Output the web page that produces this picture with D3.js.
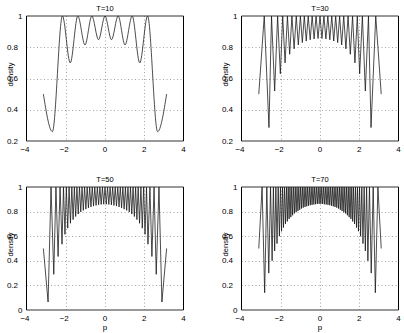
<!DOCTYPE html>
<html>
<head>
<meta charset="utf-8">
<script src="https://cdn.jsdelivr.net/npm/d3@7"></script>
<style>
  body { margin: 0; background: #fff; }
  svg { display: block; font-family: "Liberation Sans", Arial, sans-serif; }
</style>
</head>
<body>
<svg id="chart" width="404" height="333"></svg>
<script>
// values: [p, density]
const titles = ["T=10", "T=30", "T=50", "T=70"];
const xTicks = [-4, -2, 0, 2, 4];
const yTicksTop = [0.2, 0.4, 0.6, 0.8, 1];
const yTicksBottom = [0, 0.2, 0.4, 0.6, 0.8, 1];

const t10 = [[-3.14,0.50],[-2.68,0.26],[-2.17,1],[-1.77,0.70],[-1.385,1],[-1.02,0.815],[-0.67,1],[-0.33,0.848],[0,1],
  [0.33,0.848],[0.67,1],[1.02,0.815],[1.385,1],[1.77,0.70],[2.17,1],[2.68,0.26],[3.14,0.50]];

const t30 = [[-3.12,0.50],[-2.84,1],[-2.60,0.286],[-2.47,1],[-2.31,0.52],[-2.16,1],[-2.02,0.63],[-1.90,1],[-1.78,0.70],[-1.66,1],
  [-1.545,0.755],[-1.43,1],[-1.32,0.79],[-1.21,1],[-1.105,0.815],[-1.00,1],[-0.90,0.83],[-0.80,1],[-0.70,0.84],[-0.60,1],
  [-0.50,0.848],[-0.40,1],[-0.30,0.853],[-0.20,1],[-0.10,0.856],[0,1],
  [0.10,0.856],[0.20,1],[0.30,0.853],[0.40,1],[0.50,0.848],[0.60,1],[0.70,0.84],[0.80,1],[0.90,0.83],[1.00,1],
  [1.105,0.815],[1.21,1],[1.32,0.79],[1.43,1],[1.545,0.755],[1.66,1],[1.78,0.70],[1.90,1],[2.02,0.63],[2.16,1],
  [2.31,0.52],[2.47,1],[2.60,0.286],[2.84,1],[3.12,0.50]];

const t50 = [[-3.14,0.50],[-2.90,0.065],[-2.75,1],[-2.61,0.29],[-2.50,1],[-2.39,0.435],[-2.29,1],[-2.19,0.535],[-2.115,1],
  [-2.04,0.615],[-1.97,1],[-1.90,0.665],[-1.83,1],[-1.76,0.705],[-1.69,1],[-1.625,0.735],[-1.56,1],[-1.495,0.76],[-1.43,1],
  [-1.365,0.78],[-1.30,1],[-1.235,0.797],[-1.17,1],[-1.105,0.81],[-1.04,1],[-0.975,0.82],[-0.91,1],[-0.845,0.83],[-0.78,1],
  [-0.715,0.838],[-0.65,1],[-0.585,0.845],[-0.52,1],[-0.455,0.85],[-0.39,1],[-0.325,0.855],[-0.26,1],[-0.195,0.858],[-0.13,1],
  [-0.065,0.86],[0,1],
  [0.065,0.86],[0.13,1],[0.195,0.858],[0.26,1],[0.325,0.855],[0.39,1],[0.455,0.85],[0.52,1],[0.585,0.845],[0.65,1],
  [0.715,0.838],[0.78,1],[0.845,0.83],[0.91,1],[0.975,0.82],[1.04,1],[1.105,0.81],[1.17,1],[1.235,0.797],[1.30,1],
  [1.365,0.78],[1.43,1],[1.495,0.76],[1.56,1],[1.625,0.735],[1.69,1],[1.76,0.705],[1.83,1],[1.90,0.665],[1.97,1],
  [2.04,0.615],[2.115,1],[2.19,0.535],[2.29,1],[2.39,0.435],[2.50,1],[2.61,0.29],[2.75,1],[2.90,0.065],[3.14,0.50]];

const t70 = [[-3.12,0.50],[-2.95,1],[-2.82,0.14],[-2.71,1],[-2.61,0.30],[-2.52,1],[-2.44,0.40],[-2.375,1],[-2.31,0.48],[-2.25,1],
  [-2.19,0.54],[-2.13,1],[-2.07,0.60],[-2.015,1],[-1.96,0.64],[-1.91,1],[-1.86,0.67],[-1.81,1],[-1.76,0.70],[-1.71,1],
  [-1.665,0.72],[-1.62,1],[-1.575,0.74],[-1.53,1],[-1.485,0.755],[-1.44,1],[-1.395,0.77],[-1.35,1],[-1.305,0.785],[-1.26,1],
  [-1.215,0.795],[-1.17,1],[-1.125,0.805],[-1.08,1],[-1.035,0.815],[-0.99,1],[-0.945,0.825],[-0.90,1],[-0.855,0.832],[-0.81,1],
  [-0.765,0.838],[-0.72,1],[-0.675,0.843],[-0.63,1],[-0.585,0.848],[-0.54,1],[-0.495,0.852],[-0.45,1],[-0.405,0.855],[-0.36,1],
  [-0.315,0.858],[-0.27,1],[-0.225,0.86],[-0.18,1],[-0.135,0.862],[-0.09,1],[-0.045,0.863],[0,1],
  [0.045,0.863],[0.09,1],[0.135,0.862],[0.18,1],[0.225,0.86],[0.27,1],[0.315,0.858],[0.36,1],[0.405,0.855],[0.45,1],
  [0.495,0.852],[0.54,1],[0.585,0.848],[0.63,1],[0.675,0.843],[0.72,1],[0.765,0.838],[0.81,1],[0.855,0.832],[0.90,1],
  [0.945,0.825],[0.99,1],[1.035,0.815],[1.08,1],[1.125,0.805],[1.17,1],[1.215,0.795],[1.26,1],[1.305,0.785],[1.35,1],
  [1.395,0.77],[1.44,1],[1.485,0.755],[1.53,1],[1.575,0.74],[1.62,1],[1.665,0.72],[1.71,1],[1.76,0.70],[1.81,1],
  [1.86,0.67],[1.91,1],[1.96,0.64],[2.015,1],[2.07,0.60],[2.13,1],[2.19,0.54],[2.25,1],[2.31,0.48],[2.375,1],
  [2.44,0.40],[2.52,1],[2.61,0.30],[2.71,1],[2.82,0.14],[2.95,1],[3.12,0.50]];

const panels = [
  {title: titles[0], data: t10, x0: 26.5, x1: 183.5, y0: 141, y1: 16, dom: [0.2, 1], yt: yTicksTop, smooth: true, xlab: false},
  {title: titles[1], data: t30, x0: 241.5, x1: 398.5, y0: 141, y1: 16, dom: [0.2, 1], yt: yTicksTop, smooth: false, xlab: false},
  {title: titles[2], data: t50, x0: 26.5, x1: 183.5, y0: 310, y1: 187, dom: [0, 1], yt: yTicksBottom, smooth: false, xlab: true},
  {title: titles[3], data: t70, x0: 241.5, x1: 398.5, y0: 310, y1: 187, dom: [0, 1], yt: yTicksBottom, smooth: false, xlab: true}
];

const svg = d3.select("#chart");
const fmt = d => (d < 0 ? "\u2212" : "") + Math.abs(d);

panels.forEach(pn => {
  let x = d3.scaleLinear().domain([-4, 4]).range([pn.x0, pn.x1]);
  let y = d3.scaleLinear().domain(pn.dom).range([pn.y0, pn.y1]);
  let g = svg.append("g");

  // dotted grid
  g.selectAll(".gx").data(xTicks.slice(1, -1)).enter().append("line")
    .attr("x1", d => Math.round(x(d)) + 0.5).attr("x2", d => Math.round(x(d)) + 0.5)
    .attr("y1", pn.y1).attr("y2", pn.y0)
    .attr("stroke", "#8a8a8a").attr("stroke-width", 0.8).attr("stroke-dasharray", "1,2.5");
  g.selectAll(".gy").data(pn.yt.slice(1, -1)).enter().append("line")
    .attr("x1", pn.x0).attr("x2", pn.x1)
    .attr("y1", d => Math.round(y(d)) + 0.5).attr("y2", d => Math.round(y(d)) + 0.5)
    .attr("stroke", "#8a8a8a").attr("stroke-width", 0.8).attr("stroke-dasharray", "1,2.5");

  // curve
  let line = d3.line().x(d => x(d[0])).y(d => y(d[1]))
    .curve(pn.smooth ? d3.curveMonotoneX : d3.curveLinear);
  g.append("path").datum(pn.data).attr("d", line)
    .attr("fill", "none").attr("stroke", "#111").attr("stroke-width", 0.75);

  // frame
  g.append("line").attr("x1", pn.x0).attr("x2", pn.x1).attr("y1", pn.y1).attr("y2", pn.y1)
    .attr("stroke", "#333").attr("stroke-width", 1);
  g.append("line").attr("x1", pn.x0).attr("x2", pn.x1).attr("y1", pn.y0).attr("y2", pn.y0)
    .attr("stroke", "#333").attr("stroke-width", 1);
  g.append("line").attr("x1", pn.x0).attr("x2", pn.x0).attr("y1", pn.y1).attr("y2", pn.y0)
    .attr("stroke", "#000").attr("stroke-width", 1);
  g.append("line").attr("x1", pn.x1).attr("x2", pn.x1).attr("y1", pn.y1).attr("y2", pn.y0)
    .attr("stroke", "#000").attr("stroke-width", 1);

  // tick labels
  g.selectAll(".xl").data(xTicks).enter().append("text")
    .attr("x", d => x(d) - (d < 0 ? 1.5 : 0)).attr("y", pn.y0 + 10.5)
    .attr("text-anchor", "middle").attr("font-size", 8).attr("fill", "#000").text(fmt);
  g.selectAll(".yl").data(pn.yt).enter().append("text")
    .attr("x", d => pn.x0 - (Number.isInteger(d) ? 4 : 8.5)).attr("y", d => y(d) + 2.6)
    .attr("text-anchor", "end").attr("font-size", 8).attr("fill", "#000").text(d => String(d));

  // title and labels
  g.append("text").attr("x", (pn.x0 + pn.x1) / 2).attr("y", pn.y1 - 5.5)
    .attr("text-anchor", "middle").attr("font-size", 7.5).attr("fill", "#000").text(pn.title);
  g.append("text")
    .attr("transform", `translate(${pn.x0 - 14},${(pn.y0 + pn.y1) / 2 - 4}) rotate(-90)`)
    .attr("text-anchor", "middle").attr("font-size", 7.5).attr("fill", "#000").text("density");
  if (pn.xlab) {
    g.append("text").attr("x", (pn.x0 + pn.x1) / 2).attr("y", pn.y0 + 19.5)
      .attr("text-anchor", "middle").attr("font-size", 8).attr("fill", "#000").text("p");
  }
});
</script>
</body>
</html>
